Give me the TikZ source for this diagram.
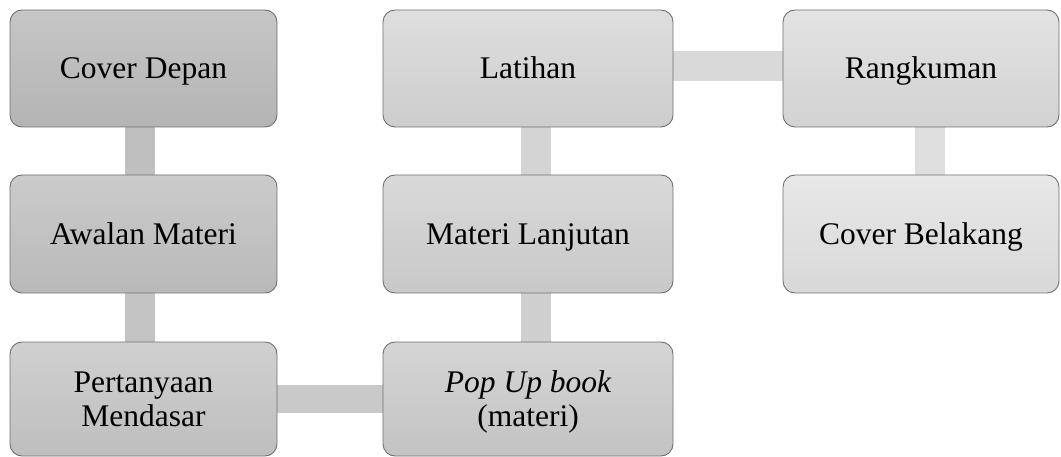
\documentclass[tikz,border=0pt]{standalone}
\usepackage{fontspec}
\setmainfont{Liberation Serif}
\usetikzlibrary{backgrounds}
\definecolor{edgegray}{gray}{0.44}
\definecolor{tA}{gray}{0.776}\definecolor{bA}{gray}{0.706}
\definecolor{tB}{gray}{0.796}\definecolor{bB}{gray}{0.725}
\definecolor{tC}{gray}{0.816}\definecolor{bC}{gray}{0.745}
\definecolor{tD}{gray}{0.835}\definecolor{bD}{gray}{0.765}
\definecolor{tE}{gray}{0.851}\definecolor{bE}{gray}{0.784}
\definecolor{tF}{gray}{0.871}\definecolor{bF}{gray}{0.804}
\definecolor{tG}{gray}{0.890}\definecolor{bG}{gray}{0.824}
\definecolor{tH}{gray}{0.910}\definecolor{bH}{gray}{0.847}
\definecolor{cAB}{gray}{0.75}
\definecolor{cBC}{gray}{0.77}
\definecolor{cCD}{gray}{0.79}
\definecolor{cDE}{gray}{0.81}
\definecolor{cEF}{gray}{0.83}
\definecolor{cFG}{gray}{0.85}
\definecolor{cGH}{gray}{0.87}
\begin{document}
\begin{tikzpicture}[x=1pt,y=-1pt,
  box/.style={draw=edgegray, line width=0.9pt, rounded corners=12pt,
    inner sep=0pt, text=black, text depth=0pt, text height=20.9pt,
    font=\fontsize{31.5}{34}\selectfont},
  twoline/.style={text height=54.9pt},
  col1/.style={minimum width=267pt},
  col2/.style={minimum width=290pt},
  col3/.style={minimum width=276pt},
  conn/.style={line width=30pt, line cap=butt}]
\useasboundingbox (0,0) rectangle (1061,457);
\node[box,col1,minimum height=117pt,top color=tA,bottom color=bA] (a) at (143.5,68.5) {Cover Depan};
\node[box,col1,minimum height=118pt,top color=tB,bottom color=bB] (b) at (143.5,234) {Awalan Materi};
\node[box,col1,twoline,minimum height=114pt,top color=tC,bottom color=bC] (c) at (143.5,399) {\begin{tabular}[b]{@{}c@{}}Pertanyaan\\Mendasar\end{tabular}};
\node[box,col2,twoline,minimum height=114pt,top color=tD,bottom color=bD] (d) at (528,399) {\begin{tabular}[b]{@{}c@{}}\itshape Pop Up book\\(materi)\end{tabular}};
\node[box,col2,minimum height=118pt,top color=tE,bottom color=bE] (e) at (528,234) {Materi Lanjutan};
\node[box,col2,minimum height=117pt,top color=tF,bottom color=bF] (f) at (528,68.5) {Latihan};
\node[box,col3,minimum height=117pt,top color=tG,bottom color=bG] (g) at (921,68.5) {Rangkuman};
\node[box,col3,minimum height=118pt,top color=tH,bottom color=bH] (h) at (921,234) {Cover Belakang};
\begin{scope}[on background layer]
\draw[conn,draw=cAB] ([xshift=-3.5pt]a.south) -- ([xshift=-3.5pt]b.north);
\draw[conn,draw=cBC] ([xshift=-3.5pt]b.south) -- ([xshift=-3.5pt]c.north);
\draw[conn,draw=cCD,line width=28pt] (c.east) -- (d.west);
\draw[conn,draw=cDE] ([xshift=8pt]d.north) -- ([xshift=8pt]e.south);
\draw[conn,draw=cEF] ([xshift=8pt]e.north) -- ([xshift=8pt]f.south);
\draw[conn,draw=cFG] ([yshift=2.5pt]f.east) -- ([yshift=2.5pt]g.west);
\draw[conn,draw=cGH] ([xshift=9pt]g.south) -- ([xshift=9pt]h.north);
\end{scope}
\end{tikzpicture}
\end{document}
